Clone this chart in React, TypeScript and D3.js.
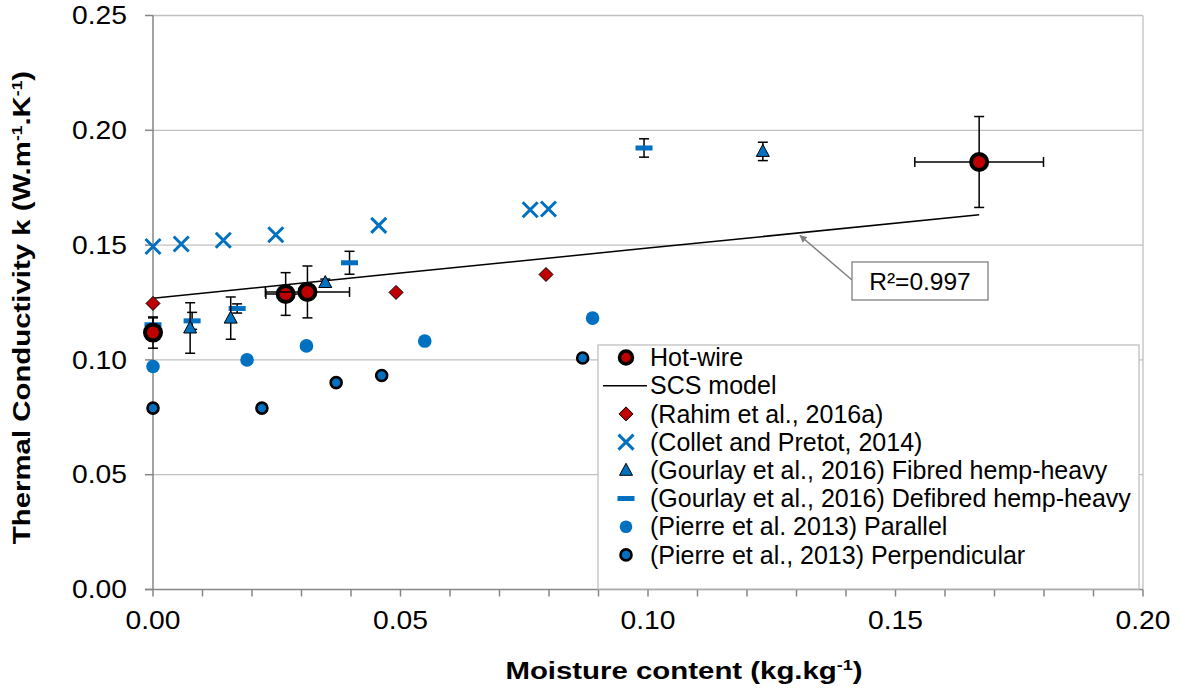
import React from "react";
import * as d3 from "d3";

// ---- Data ----
const hotWireX = [0.0, 0.0268, 0.0312, 0.1669];
const hotWireY = [0.1119, 0.1287, 0.1296, 0.1862];
const hotWireYErr = [0.0068, 0.0093, 0.0113, 0.0198];
const hotWireXErr = [0, 0.004, 0.0085, 0.013];

const scsX = [0.0, 0.05, 0.1, 0.1669];
const scsY = [0.1269, 0.1378, 0.1487, 0.1632];

const rahimX = [0.0, 0.0491, 0.0794];
const rahimY = [0.1246, 0.1294, 0.1372];

const colletX = [0.0, 0.0057, 0.0142, 0.0248, 0.0456, 0.0762, 0.0799];
const colletY = [0.1494, 0.1505, 0.1521, 0.1545, 0.1586, 0.1654, 0.1657];

const fibredX = [0.0075, 0.0157, 0.0348, 0.1232];
const fibredY = [0.1139, 0.1182, 0.1337, 0.1908];
const fibredErr = [0.011, 0.0092, 0.0015, 0.004];

const defibredX = [0.0, 0.0079, 0.017, 0.0397, 0.0992];
const defibredY = [0.1153, 0.117, 0.1224, 0.1423, 0.1923];
const defibredErr = [0.003, 0.0037, 0.002, 0.005, 0.004];

const parallelX = [0.0, 0.019, 0.031, 0.0549, 0.0888];
const parallelY = [0.0971, 0.1, 0.1061, 0.1082, 0.1182];

const perpX = [0.0, 0.022, 0.037, 0.0462, 0.0868];
const perpY = [0.079, 0.079, 0.0901, 0.0932, 0.1008];

const yTicks = [0, 0.05, 0.1, 0.15, 0.2, 0.25];
const xTicks = [0, 0.05, 0.1, 0.15, 0.2];

const legendLabels = [
  "Hot-wire",
  "SCS model",
  "(Rahim et al., 2016a)",
  "(Collet and Pretot, 2014)",
  "(Gourlay et al., 2016) Fibred hemp-heavy",
  "(Gourlay et al., 2016) Defibred hemp-heavy",
  "(Pierre et al. 2013) Parallel",
  "(Pierre et al., 2013) Perpendicular",
];

const BLUE = "#0070c0";
const RED = "#c00000";
const FONT = "'Liberation Sans', Arial, Helvetica, sans-serif";

const x = d3.scaleLinear().domain([0, 0.2]).range([153, 1143]);
const y = d3.scaleLinear().domain([0, 0.25]).range([589.5, 15.5]);

function ErrY({ cx, v, e }: { cx: number; v: number; e: number }) {
  if (!e) return null;
  const px = x(cx);
  const t = y(v + e);
  const b = y(v - e);
  return (
    <g stroke="#000" strokeWidth={1.5}>
      <line x1={px} x2={px} y1={t} y2={b} />
      <line x1={px - 5} x2={px + 5} y1={t} y2={t} />
      <line x1={px - 5} x2={px + 5} y1={b} y2={b} />
    </g>
  );
}

function ErrX({ cy, v, e }: { cy: number; v: number; e: number }) {
  if (!e) return null;
  const py = y(cy);
  const l = x(v - e);
  const r = x(v + e);
  return (
    <g stroke="#000" strokeWidth={1.5}>
      <line x1={l} x2={r} y1={py} y2={py} />
      <line x1={l} x2={l} y1={py - 5} y2={py + 5} />
      <line x1={r} x2={r} y1={py - 5} y2={py + 5} />
    </g>
  );
}

const Marker = {
  hot: (cx: number, cy: number, k: string) => (
    <circle key={k} cx={cx} cy={cy} r={8} fill={RED} stroke="#000" strokeWidth={4} />
  ),
  diamond: (cx: number, cy: number, k: string) => (
    <path key={k} d={`M${cx},${cy - 7}L${cx + 7},${cy}L${cx},${cy + 7}L${cx - 7},${cy}Z`} fill={RED} stroke="#000" strokeWidth={1} />
  ),
  cross: (cx: number, cy: number, k: string) => (
    <path key={k} d={`M${cx - 7.5},${cy - 7.5}L${cx + 7.5},${cy + 7.5}M${cx - 7.5},${cy + 7.5}L${cx + 7.5},${cy - 7.5}`} stroke={BLUE} strokeWidth={3} fill="none" />
  ),
  tri: (cx: number, cy: number, k: string) => (
    <path key={k} d={`M${cx},${cy - 7}L${cx + 6.5},${cy + 5}L${cx - 6.5},${cy + 5}Z`} fill={BLUE} stroke="#000" strokeWidth={1} />
  ),
  dash: (cx: number, cy: number, k: string) => (
    <rect key={k} x={cx - 8.5} y={cy - 2.5} width={17} height={5} fill={BLUE} />
  ),
  dot: (cx: number, cy: number, k: string) => (
    <circle key={k} cx={cx} cy={cy} r={6.8} fill={BLUE} />
  ),
  ring: (cx: number, cy: number, k: string) => (
    <circle key={k} cx={cx} cy={cy} r={5.5} fill={BLUE} stroke="#000" strokeWidth={2.6} />
  ),
};

export default function App() {
  const line = d3
    .line<number>()
    .x((_, i) => x(scsX[i]))
    .y((d) => y(d));
  const minor = d3.range(0, 21).map((i) => i * 0.01);
  const legendX = 598;
  const legendY = 345;
  const rowH = 28.2;
  const legendMarkers = [
    (cx: number, cy: number) => (
      <circle cx={cx} cy={cy} r={6.5} fill={RED} stroke="#000" strokeWidth={3.5} />
    ),
    (cx: number, cy: number) => <line x1={cx - 23} x2={cx + 21} y1={cy} y2={cy} stroke="#000" strokeWidth={1.5} />,
    (cx: number, cy: number) => Marker.diamond(cx, cy, "l"),
    (cx: number, cy: number) => Marker.cross(cx, cy, "l"),
    (cx: number, cy: number) => Marker.tri(cx, cy, "l"),
    (cx: number, cy: number) => Marker.dash(cx, cy, "l"),
    (cx: number, cy: number) => (
      <circle cx={cx} cy={cy} r={6.3} fill={BLUE} />
    ),
    (cx: number, cy: number) => (
      <circle cx={cx} cy={cy} r={5.5} fill={BLUE} stroke="#000" strokeWidth={2.6} />
    ),
  ];

  return (
    <svg width={1182} height={696} style={{ position: "absolute", left: 0, top: 0, background: "#fff" }} fontFamily={FONT}>
      {/* gridlines */}
      {yTicks.slice(1, 5).map((t) => (
        <line key={t} x1={x(0)} x2={x(0.2)} y1={y(t)} y2={y(t)} stroke="#c0c0c0" strokeWidth={1.3} />
      ))}
      {/* plot border */}
      <line x1={x(0)} x2={x(0.2)} y1={y(0.25)} y2={y(0.25)} stroke="#c0c0c0" strokeWidth={1.3} />
      <line x1={x(0.2)} x2={x(0.2)} y1={y(0.25)} y2={y(0)} stroke="#c0c0c0" strokeWidth={1.3} />
      {/* axes */}
      <line x1={x(0)} x2={x(0)} y1={y(0.25)} y2={y(0)} stroke="#868686" strokeWidth={1.5} />
      <line x1={x(0) - 8} x2={x(0.2)} y1={y(0)} y2={y(0)} stroke="#868686" strokeWidth={1.5} />
      {yTicks.map((t) => (
        <g key={t}>
          <line x1={x(0) - 8} x2={x(0)} y1={y(t)} y2={y(t)} stroke="#868686" strokeWidth={1.5} />
          <text x={127} y={y(t)} dy="0.35em" textAnchor="end" fontSize={25} textLength={55} lengthAdjust="spacingAndGlyphs">
            {t.toFixed(2)}
          </text>
        </g>
      ))}
      {minor.map((t) => (
        <line key={t} x1={x(t)} x2={x(t)} y1={y(0)} y2={y(0) + 7} stroke="#868686" strokeWidth={1.5} />
      ))}
      {xTicks.map((t) => (
        <text key={t} x={x(t) - 27.5} y={629} fontSize={25} textLength={55} lengthAdjust="spacingAndGlyphs">
          {t.toFixed(2)}
        </text>
      ))}
      {/* axis titles */}
      <g transform="translate(684,679) scale(1.2,1)">
        <text x={0} y={0} textAnchor="middle" fontSize={24.5} fontWeight="bold">
          Moisture content (kg.kg<tspan dy={-9} fontSize={15}>-1</tspan>
          <tspan dy={9}>)</tspan>
        </text>
      </g>
      <g transform="translate(30,307.5) rotate(-90) scale(1.25,1)">
        <text x={0} y={0} textAnchor="middle" fontSize={23.5} fontWeight="bold">
          Thermal Conductivity k (W.m<tspan dy={-8} fontSize={14}>-1</tspan>
          <tspan dy={8}>.K</tspan>
          <tspan dy={-8} fontSize={14}>-1</tspan>
          <tspan dy={8}>)</tspan>
        </text>
      </g>

      {/* SCS model line */}
      <path d={line(scsY) || ""} fill="none" stroke="#000" strokeWidth={1.5} />

      {/* Pierre perpendicular */}
      {perpX.map((v, i) => Marker.ring(x(v), y(perpY[i]), "pp" + i))}
      {/* Pierre parallel */}
      {parallelX.map((v, i) => Marker.dot(x(v), y(parallelY[i]), "pa" + i))}
      {/* Collet */}
      {colletX.map((v, i) => Marker.cross(x(v), y(colletY[i]), "c" + i))}
      {/* Defibred */}
      {defibredX.map((v, i) => (
        <g key={"d" + i}>
          <ErrY cx={v} v={defibredY[i]} e={defibredErr[i]} />
          {Marker.dash(x(v), y(defibredY[i]), "dm" + i)}
        </g>
      ))}
      {/* Fibred */}
      {fibredX.map((v, i) => (
        <g key={"f" + i}>
          <ErrY cx={v} v={fibredY[i]} e={fibredErr[i]} />
          {Marker.tri(x(v), y(fibredY[i]), "fm" + i)}
        </g>
      ))}
      {/* Rahim */}
      {rahimX.map((v, i) => Marker.diamond(x(v), y(rahimY[i]), "r" + i))}
      {/* Hot-wire */}
      {hotWireX.map((v, i) => (
        <g key={"h" + i}>
          <ErrY cx={v} v={hotWireY[i]} e={hotWireYErr[i]} />
          <ErrX cy={hotWireY[i]} v={v} e={hotWireXErr[i]} />
          {Marker.hot(x(v), y(hotWireY[i]), "hm" + i)}
        </g>
      ))}

      {/* R² annotation */}
      <defs>
        <marker id="arr" viewBox="0 0 10 10" refX={9} refY={5} markerWidth={5} markerHeight={5} orient="auto">
          <path d="M0,0L10,5L0,10Z" fill="#808080" />
        </marker>
      </defs>
      <line x1={852} y1={280} x2={800} y2={235.5} stroke="#808080" strokeWidth={1.5} markerEnd="url(#arr)" />
      <rect x={852} y={262} width={136} height={38} fill="#fff" stroke="#808080" strokeWidth={1.3} />
      <text x={920} y={281} dy="0.35em" textAnchor="middle" fontSize={24.5}>
        R²=0.997
      </text>

      {/* legend */}
      <rect x={legendX} y={legendY} width={541} height={244} fill="#fff" stroke="#c0c0c0" strokeWidth={1.3} />
      {legendLabels.map((lab, i) => {
        const cy = legendY + 12.5 + i * rowH;
        return (
          <g key={lab}>
            {legendMarkers[i](626, cy)}
            <text x={650} y={cy} dy="0.35em" fontSize={25}>
              {lab}
            </text>
          </g>
        );
      })}
    </svg>
  );
}
